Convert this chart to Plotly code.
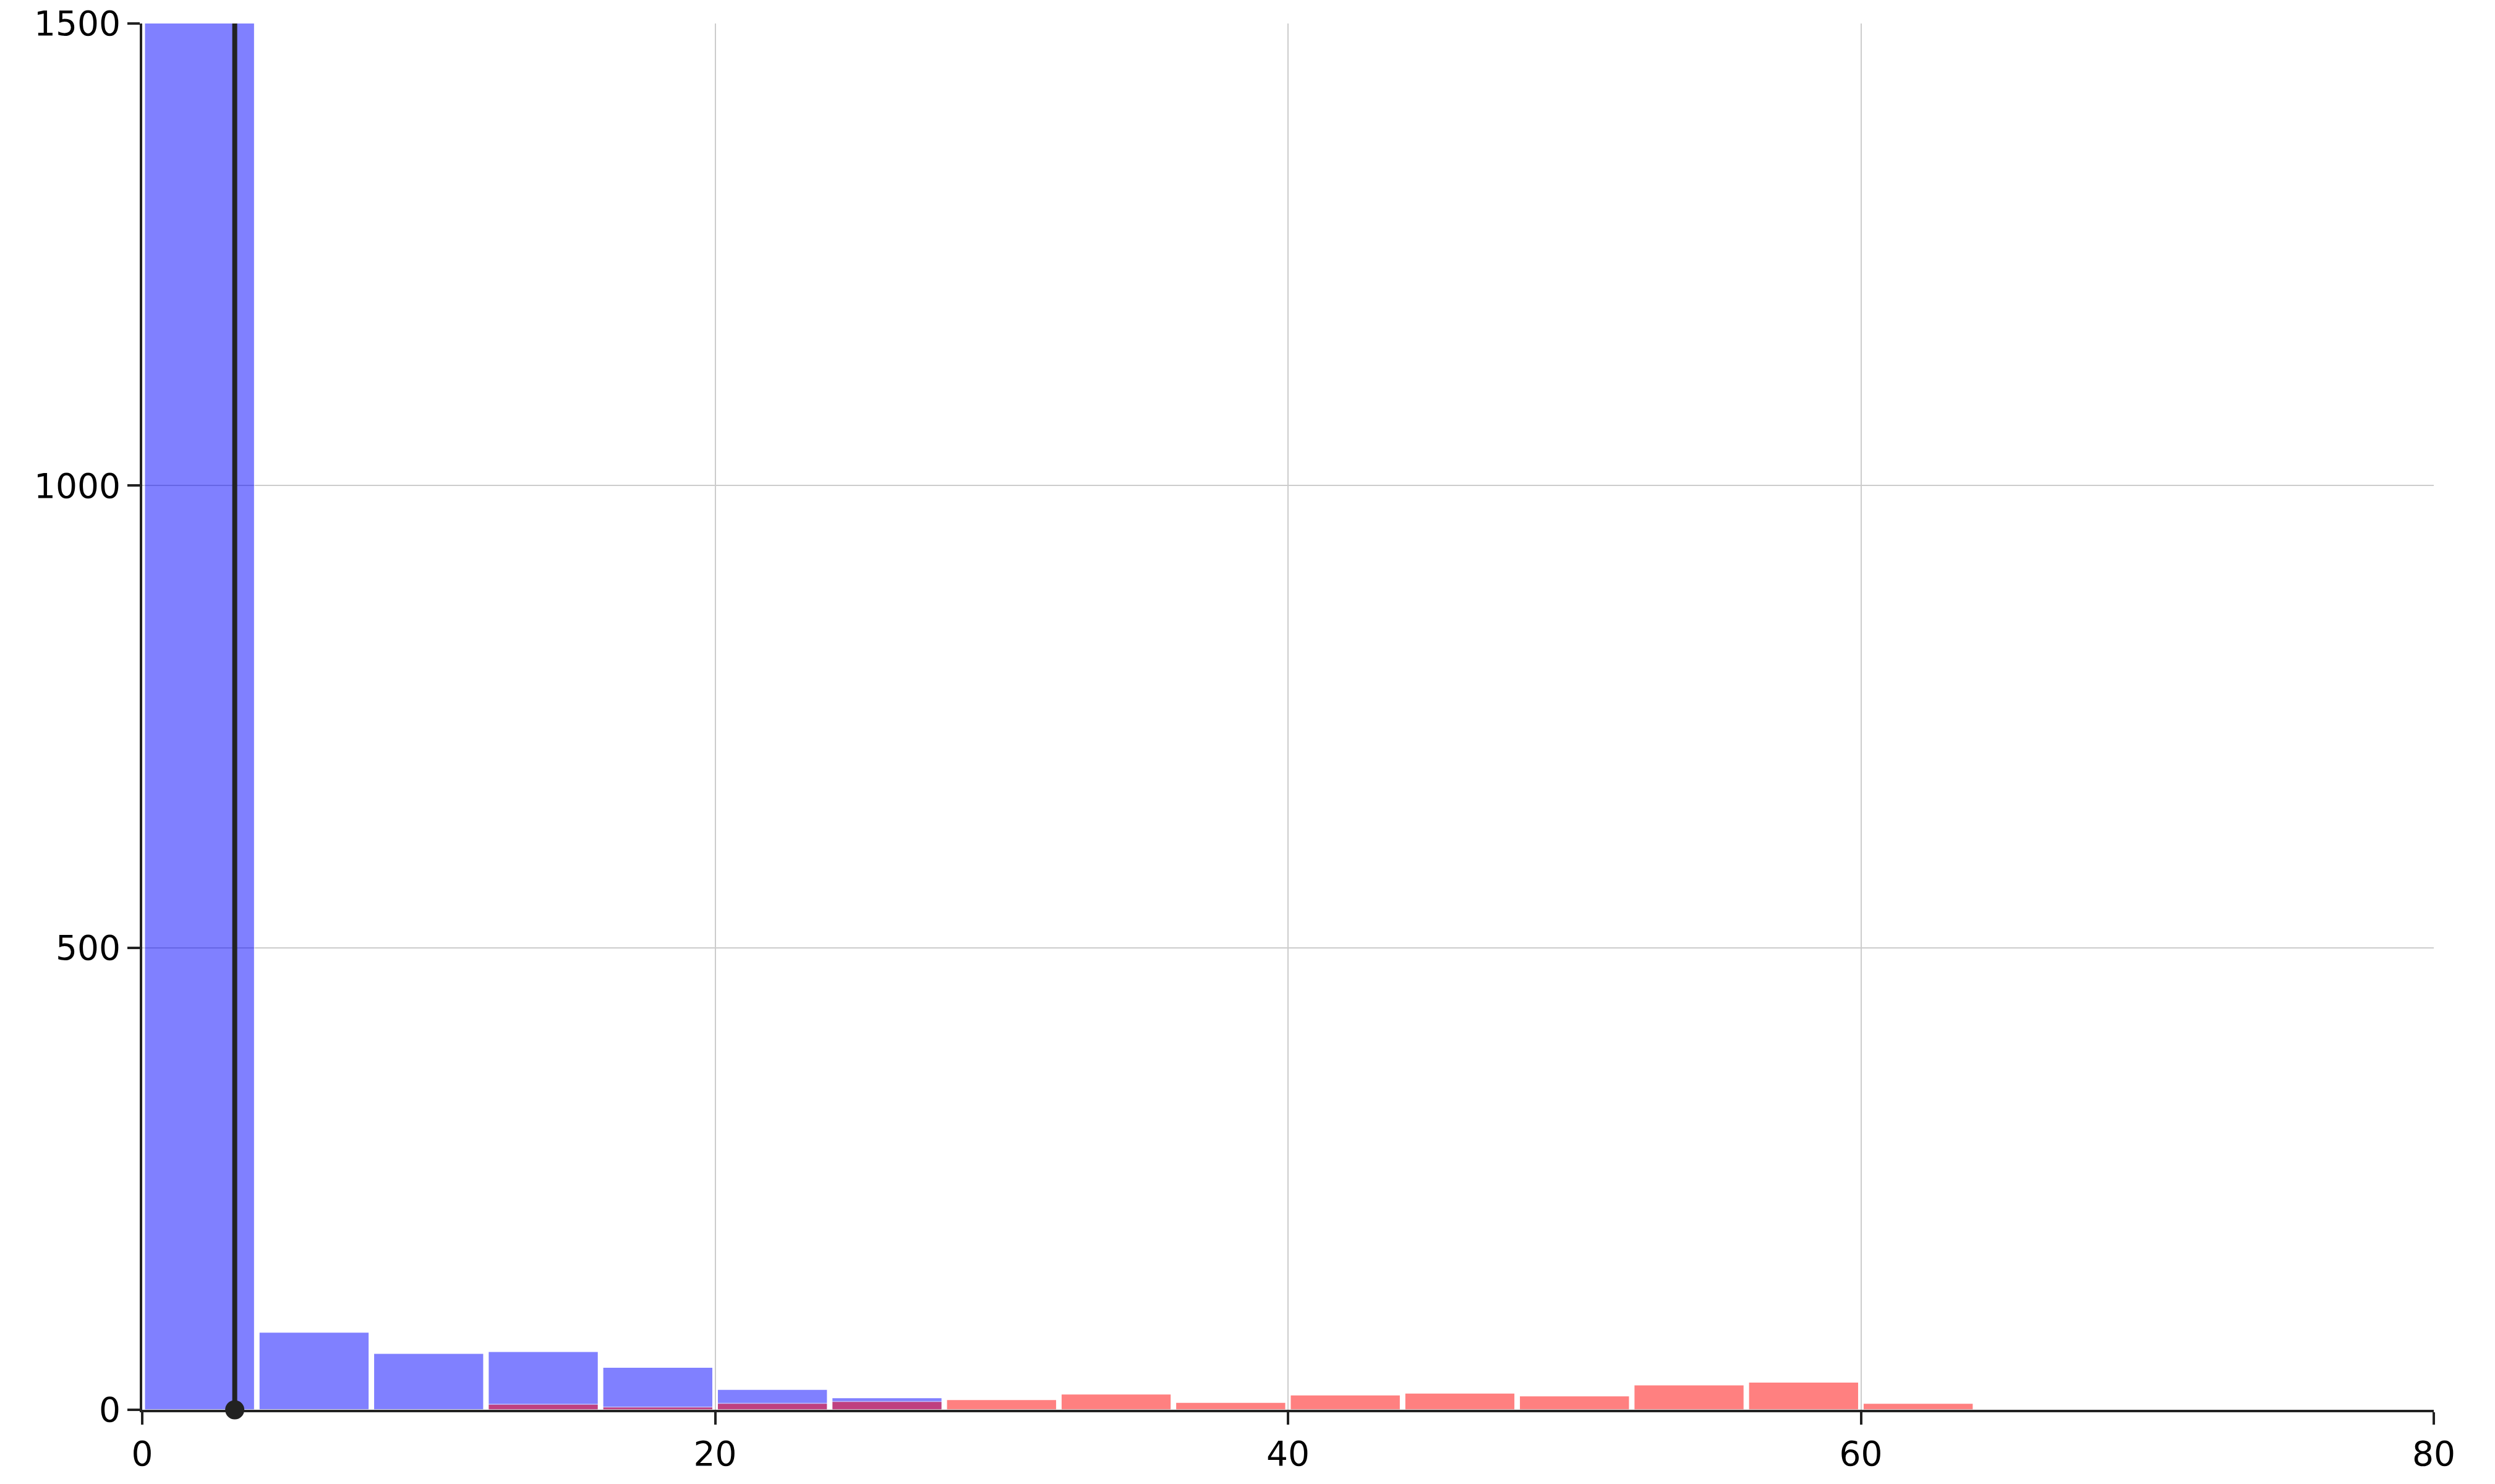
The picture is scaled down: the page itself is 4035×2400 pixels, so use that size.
import plotly.graph_objects as go

bin_width = 4
blue_bin_starts = [0, 4, 8, 12, 16, 20, 24]
blue_counts = [1800, 84, 61, 63, 46, 22, 13]
red_bin_starts = [4, 8, 12, 16, 20, 24, 28, 32, 36, 40, 44, 48, 52, 56, 60]
red_counts = [0, 0, 6, 3, 7, 9, 11, 17, 8, 16, 18, 15, 27, 30, 7]
mean_x = 3.23
x_ticks = [0, 20, 40, 60, 80]
y_ticks = [0, 500, 1000, 1500]

fig = go.Figure()
fig.add_trace(go.Bar(
    x=[s + bin_width / 2 for s in blue_bin_starts], y=blue_counts,
    marker=dict(color="blue", line=dict(color="white", width=1.5)), opacity=0.5,
    showlegend=False))
fig.add_trace(go.Bar(
    x=[s + bin_width / 2 for s in red_bin_starts], y=red_counts,
    marker=dict(color="red", line=dict(color="white", width=1.5)), opacity=0.5,
    showlegend=False))
fig.add_trace(go.Scatter(
    x=[mean_x, mean_x], y=[0, 1500], mode="lines",
    line=dict(color="#222222", width=8), showlegend=False, cliponaxis=False))
fig.add_trace(go.Scatter(
    x=[mean_x], y=[0], mode="markers",
    marker=dict(color="#222222", size=31), showlegend=False, cliponaxis=False))

fig.update_layout(
    width=4035, height=2400, barmode="overlay", bargap=0.04,
    margin=dict(l=222, r=107, t=30, b=128, autoexpand=False),
    paper_bgcolor="white", plot_bgcolor="white",
    font=dict(family="DejaVu Sans", size=55, color="black"),
)
fig.update_xaxes(range=[0, 80], tickvals=x_ticks, showgrid=True, gridcolor="#cccccc", gridwidth=1.5,
                 zeroline=False, showline=True, linecolor="#222222", linewidth=4,
                 ticks="outside", ticklen=20, tickwidth=4, tickcolor="#222222",
                 ticklabeloverflow="allow", automargin=False)
fig.update_yaxes(range=[0, 1500], tickvals=y_ticks, showgrid=True, gridcolor="#cccccc", gridwidth=1.5,
                 zeroline=False, showline=True, linecolor="#222222", linewidth=4,
                 ticks="outside", ticklen=20, tickwidth=4, tickcolor="#222222",
                 ticklabeloverflow="allow", automargin=False)

fig.write_html("out.html")
